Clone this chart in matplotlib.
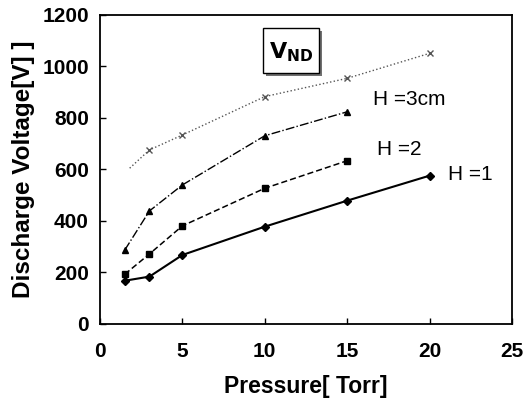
import matplotlib
matplotlib.use('Agg')
import matplotlib.pyplot as plt
import matplotlib.patheffects as pe
from matplotlib.patches import Rectangle

plt.rcParams['font.family'] = ['Liberation Sans', 'DejaVu Sans']

pressure = [1.5, 3, 5, 10, 15, 20]
h1 = [168, 184, 268, 378, 479, 576]
p2 = [1.5, 3, 5, 10, 15]
h2 = [193, 272, 381, 527, 634]
p3 = [1.5, 3, 5, 10, 15]
h3 = [287, 439, 540, 731, 824]
p_top = [1.8, 3, 5, 10, 15, 20]
v_top = [605, 676, 734, 883, 954, 1051]

fig = plt.figure(figsize=(5.25, 4.12), dpi=100)
ax = fig.add_axes([0.1905, 0.2136, 0.7845, 0.75])

ax.plot(pressure, h1, '-', color='black', lw=1.5, marker='D', ms=4)
ax.plot(p2, h2, '--', color='black', lw=1.1, marker='s', ms=5, dashes=(4, 2))
ax.plot(p3, h3, '-.', color='black', lw=1.0, marker='^', ms=4)
ax.plot(p_top, v_top, ':', color='#555555', lw=1.0, marker='x', ms=4, markevery=[1, 2, 3, 4, 5])

ax.text(16.6, 870, 'H =3cm', fontsize=15, va='center', ha='left')
ax.text(16.8, 676, 'H =2', fontsize=15, va='center', ha='left')
ax.text(21.1, 579, 'H =1', fontsize=15, va='center', ha='left')

# V_ND label box with a small shadow
box = Rectangle((9.9, 975), 3.4, 175, fc='white', ec='black', lw=1.0, zorder=5)
box.set_path_effects([pe.SimplePatchShadow(offset=(2, -2), shadow_rgbFace='0.3', alpha=0.8),
                      pe.Normal()])
ax.add_patch(box)
ax.text(11.6, 1055, r'$\mathbf{V}_{\mathbf{ND}}$', fontsize=16, ha='center', va='center', zorder=6)

ax.set_xlim(0, 25)
ax.set_ylim(0, 1200)
ax.set_xticks([0, 5, 10, 15, 20, 25])
ax.set_yticks(range(0, 1201, 200))
ax.tick_params(direction='in', length=4, width=1, labelsize=15, pad=13)
ax.tick_params(axis='y', pad=8)
for lab in ax.get_xticklabels() + ax.get_yticklabels():
    lab.set_fontweight('bold')
for s in ax.spines.values():
    s.set_linewidth(1.3)

ax.set_xlabel('Pressure[ Torr]', fontsize=16.5, fontweight='bold', labelpad=10)
ax.set_ylabel('Discharge Voltage[V] ]', fontsize=17.5, fontweight='bold', labelpad=5)

fig.savefig('out.png', dpi=100)
